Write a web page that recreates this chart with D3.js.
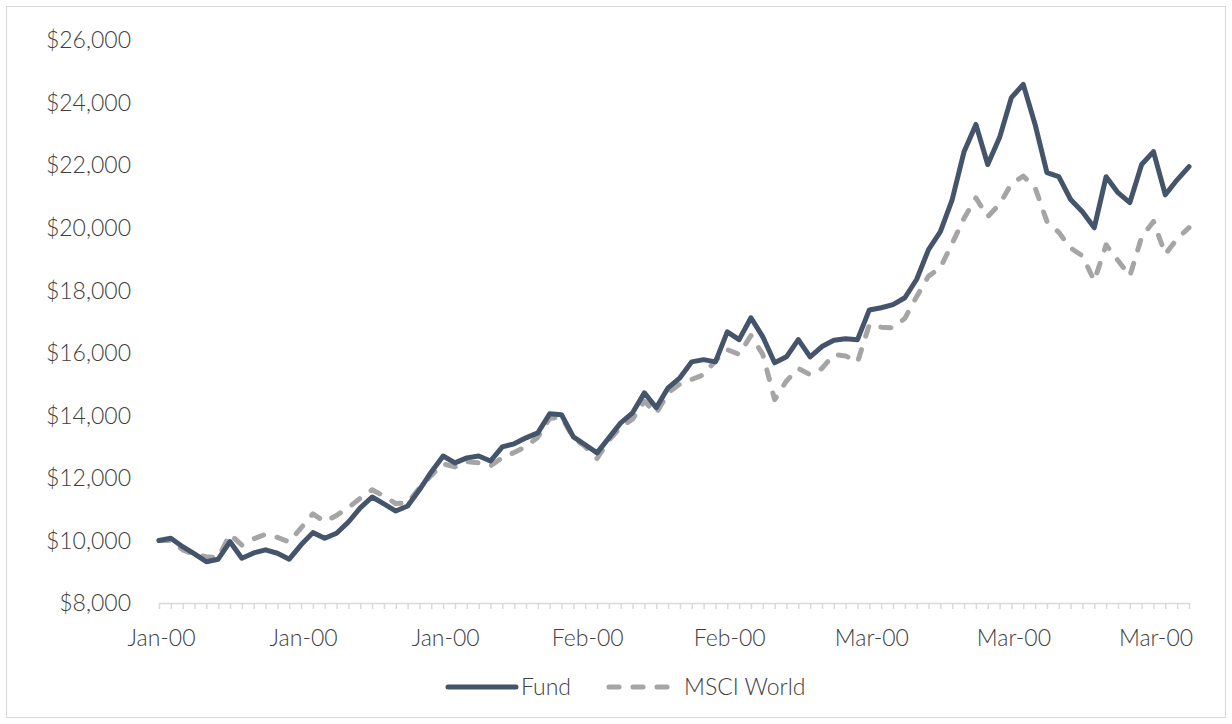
<!DOCTYPE html>
<html>
<head>
<meta charset="utf-8">
<script src="https://cdn.jsdelivr.net/npm/d3@7"></script>
<style>
  body { margin: 0; background: #fff; }
  svg { display: block; font-family: Lato, "Open Sans", sans-serif; font-weight: 300; }
</style>
</head>
<body>
<svg id="chart" width="1232" height="724"></svg>
<script>
// Excel day serials 1..88 shown as month labels (Jan-00, Feb-00, Mar-00)
var categories = d3.range(1, 89);

var fund = [
  10000, 10070, 9800, 9570, 9320, 9400, 9960, 9430, 9600, 9700,
  9590, 9400, 9860, 10250, 10070, 10230, 10590, 11040, 11390, 11170,
  10940, 11100, 11620, 12190, 12700, 12480, 12640, 12700, 12540, 12990,
  13090, 13280, 13440, 14050, 14020, 13310, 13060, 12800, 13280, 13760,
  14080, 14720, 14240, 14880, 15200, 15710, 15780, 15710, 16670, 16420,
  17120, 16510, 15680, 15870, 16420, 15870, 16200, 16400, 16450, 16420,
  17370, 17440, 17540, 17760, 18350, 19300, 19870, 20900, 22430, 23300,
  22020, 22880, 24160, 24580, 23300, 21760, 21630, 20900, 20510, 20000,
  21630, 21120, 20800, 22020, 22430, 21050, 21530, 21950
];

var msci = [
  10000, 10000, 9700, 9550, 9480, 9450, 10200, 9850, 10050, 10200,
  10100, 9950, 10400, 10850, 10600, 10800, 11050, 11350, 11620, 11420,
  11180, 11200, 11680, 12080, 12450, 12350, 12520, 12480, 12380, 12650,
  12810, 13000, 13300, 13900, 13950, 13280, 13000, 12620, 13200, 13620,
  13880, 14450, 14060, 14720, 15000, 15150, 15300, 15750, 16100, 15950,
  16550, 15950, 14500, 15100, 15500, 15300, 15500, 15950, 15900, 15700,
  16900, 16820, 16800, 17100, 17800, 18450, 18720, 19500, 20300, 20950,
  20350, 20750, 21400, 21650, 21280, 20200, 19850, 19350, 19100, 18300,
  19450, 18950, 18450, 19700, 20200, 19150, 19650, 20000
];

var xTickLabels = ["Jan-00", "Jan-00", "Jan-00", "Feb-00", "Feb-00", "Mar-00", "Mar-00", "Mar-00"];
var yTicks = [8000, 10000, 12000, 14000, 16000, 18000, 20000, 22000, 24000, 26000];
var seriesNames = ["Fund", "MSCI World"];

var svg = d3.select("#chart");
var textColor = "#404040";
var fontSize = 23;

// chart area border
svg.append("rect")
  .attr("x", 6.5).attr("y", 6.5)
  .attr("width", 1219).attr("height", 711)
  .attr("fill", "none")
  .attr("stroke", "#d9d9d9");

var x = d3.scalePoint().domain(categories).range([159, 1189]);
var y = d3.scaleLinear().domain([8000, 26000]).range([603, 40]);

// y labels (no axis line, no gridlines)
svg.append("g").selectAll("text")
  .data(yTicks).enter().append("text")
  .attr("x", 131)
  .attr("y", d => y(d))
  .attr("dy", "0.36em")
  .attr("text-anchor", "end")
  .attr("font-size", fontSize)
  .attr("fill", textColor)
  .text(d => "$" + d3.format(",")(d));

// x axis: line + tick at each category, labels every 12th
var xAxis = d3.axisBottom(x)
  .tickSizeInner(6)
  .tickSizeOuter(0)
  .tickFormat(function(d, i) {
    return i % 12 === 0 ? xTickLabels[i / 12] : "";
  });

var gx = svg.append("g")
  .attr("transform", "translate(0," + y(8000) + ")")
  .call(xAxis);
gx.select(".domain").attr("stroke", "#d9d9d9").attr("stroke-width", 1.5);
gx.selectAll(".tick line").attr("stroke", "#d9d9d9").attr("stroke-width", 1.5);
gx.selectAll(".tick text")
  .attr("x", 2)
  .attr("y", 27)
  .attr("font-size", fontSize)
  .attr("font-family", "Lato, 'Open Sans', sans-serif")
  .attr("font-weight", 300)
  .attr("fill", textColor);

var line = d3.line()
  .x((d, i) => x(categories[i]))
  .y(d => y(d));

svg.append("path")
  .datum(msci)
  .attr("d", line)
  .attr("fill", "none")
  .attr("stroke", "#a5a5a5")
  .attr("stroke-width", 5)
  .attr("stroke-linecap", "round")
  .attr("stroke-linejoin", "round")
  .attr("stroke-dasharray", "10 14");

svg.append("path")
  .datum(fund)
  .attr("d", line)
  .attr("fill", "none")
  .attr("stroke", "#44546a")
  .attr("stroke-width", 5)
  .attr("stroke-linecap", "round")
  .attr("stroke-linejoin", "round");

// legend
var legend = svg.append("g").attr("transform", "translate(0,687)");
legend.append("line")
  .attr("x1", 448).attr("x2", 516)
  .attr("stroke", "#44546a").attr("stroke-width", 5)
  .attr("stroke-linecap", "round");
legend.append("text")
  .attr("x", 521).attr("dy", "0.36em")
  .attr("font-size", fontSize).attr("fill", textColor)
  .text(seriesNames[0]);
legend.append("line")
  .attr("x1", 609).attr("x2", 670)
  .attr("stroke", "#a5a5a5").attr("stroke-width", 5)
  .attr("stroke-linecap", "round")
  .attr("stroke-dasharray", "10 14");
legend.append("text")
  .attr("x", 684).attr("dy", "0.36em")
  .attr("font-size", fontSize).attr("fill", textColor)
  .text(seriesNames[1]);
</script>
</body>
</html>
